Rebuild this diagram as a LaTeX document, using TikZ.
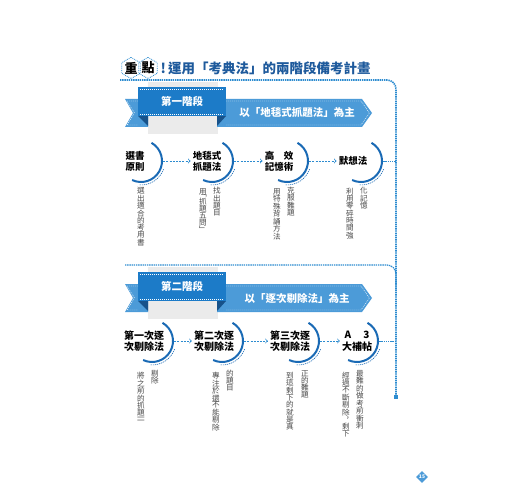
\documentclass[tikz,border=0pt]{standalone}
\usepackage{fontspec}
\setmainfont{Noto Sans CJK TC}
\usetikzlibrary{arrows,positioning,shapes.geometric}

\definecolor{titleblue}{HTML}{1E5A9C}
\definecolor{lineblue}{HTML}{2D8CD0}
\definecolor{tabblue}{HTML}{1C7BC8}
\definecolor{bandblue}{HTML}{4C9BD8}
\definecolor{folddark}{HTML}{17528A}
\definecolor{arcblue}{HTML}{1A6AB5}
\definecolor{paper}{HTML}{EBEBEB}
\definecolor{desctext}{HTML}{4A4A4A}

% one column of vertical text
\makeatletter
\newcommand\vcol[1]{\vtop{\offinterlineskip\vcol@#1\@nil}}
\def\vcol@#1{\ifx#1\@nil\else\hbox to 8pt{\hss#1\hss}\vskip0.5pt\expandafter\vcol@\fi}
\makeatother

\begin{document}
\begin{tikzpicture}[x=1pt, y=1pt,
  steptext/.style={font=\bfseries\fontsize{9.5}{11}\selectfont, align=center, inner sep=2pt},
  ring/.style={circle, minimum size=44pt, inner sep=0pt},
  ringline/.style={draw=arcblue, line width=2pt},
  ringdash/.style={draw=arcblue, line width=0.6pt, dash pattern=on 1.2pt off 0.9pt},
  flow/.style={draw=lineblue, line width=0.8pt, dash pattern=on 2pt off 1.2pt, ->, >=to},
  dotline/.style={draw=lineblue, line width=1.6pt, dash pattern=on 1.4pt off 0.8pt},
  stitch/.style={draw=white, line width=0.4pt, dash pattern=on 1pt off 1pt},
  desc/.style={font=\fontsize{7.6}{8}\selectfont, text=desctext, inner sep=0pt, anchor=north},
  hex/.style={regular polygon, regular polygon sides=6, shape border rotate=30, draw=lineblue,
    densely dotted, thick, minimum size=21pt, inner sep=0pt, font=\bfseries\fontsize{13}{14}\selectfont},
  tabtext/.style={font=\bfseries\fontsize{10.5}{12}\selectfont, text=white},
]
\fill[white] (0,0) rectangle (520,-500);
\useasboundingbox (0,0) rectangle (520,-500);

% title
\node[hex] (h1) at (131,-68) {重};
\node[hex] (h2) at (148,-68) {點};
\node[anchor=west, text=titleblue, font=\bfseries\fontsize{13.5}{15}\selectfont] (title) at (157,-68)
  {!\,運用「考典法」的兩階段備考計畫};

% dotted guide line
\coordinate (ftop) at (120,-80);
\coordinate (fend) at (396,-397);
\coordinate (fmid) at (125,-265);
\draw[dotline, rounded corners=9pt] (ftop) -| (fend);
\draw[dotline, line width=1.2pt, rounded corners=9pt] (fmid) -| (396,-290);
\fill[lineblue] (fend) +(-1.8,-1.8) rectangle +(1.8,1.8);

% the two ribbons
\foreach \yy/\tabtxt/\bandtxt [count=\k] in {0/第一階段/以「地毯式抓題法」為主, 185/第二階段/以「逐次剔除法」為主}{
  \begin{scope}[yshift=-\yy pt]
    \fill[paper] (148,-82) rectangle (218,-134);
    \fill[bandblue] (125,-99) -- (148,-99) -- (148,-127) -- (125,-127) -- (133,-113) -- cycle;
    \fill[bandblue] (217,-99) -- (362,-99) -- (372,-113) -- (362,-127) -- (217,-127) -- cycle;
    \fill[folddark] (138,-116) -- (148,-116) -- (148,-126) -- cycle;
    \fill[folddark] (217,-116) -- (226,-116) -- (217,-126) -- cycle;
    \fill[tabblue] (138,-87) rectangle (226,-116);
    \draw[stitch] (140,-89) -- (224,-89) (140,-114) -- (224,-114);
    \draw[stitch] (226,-101) -- (361,-101) -- (369.5,-113) -- (361,-125) -- (226,-125);
    \draw[stitch] (138,-101) -- (127,-101) -- (134.5,-113) -- (127,-125) -- (138,-125);
    \node[tabtext] (tab\k) at (182,-101) {\tabtxt};
    \node[tabtext] (band\k) at (297,-113) {\bandtxt};
  \end{scope}
}

% stage 1 steps
\node[steptext] (s1) at (135,-161) {選書\\原則};
\node[steptext] (s2) at (207,-161) {地毯式\\抓題法};
\node[steptext] (s3) at (279,-161) {高　效\\記憶術};
\node[steptext] (s4) at (353,-161) {默想法};
\node[ring] (c1) at (141,-161) {};
\node[ring] (c2) at (212,-161) {};
\node[ring] (c3) at (287,-161) {};
\node[ring] (c4) at (361,-161) {};

% stage 2 steps
\node[steptext, font=\bfseries\fontsize{10}{11.5}\selectfont] (s5) at (144,-341) {第一次逐\\次剔除法};
\node[steptext, font=\bfseries\fontsize{10}{11.5}\selectfont] (s6) at (214,-341) {第二次逐\\次剔除法};
\node[steptext, font=\bfseries\fontsize{10}{11.5}\selectfont] (s7) at (290,-341) {第三次逐\\次剔除法};
\node[steptext, font=\bfseries\fontsize{10}{11.5}\selectfont] (s8) at (357,-341) {A\hspace{12pt}3\\大補帖};
\node[ring] (c5) at (152,-341) {};
\node[ring] (c6) at (222,-341) {};
\node[ring] (c7) at (298,-341) {};
\node[ring] (c8) at (357,-341) {};

\foreach \c in {c1,c2,c3,c4,c5,c6,c7,c8}{
  \draw[ringline] ([shift={(60:21pt)}]\c.center) arc[start angle=60, end angle=-115, radius=21pt];
  \draw[ringdash] ([shift={(-20:24pt)}]\c.center) arc[start angle=-20, end angle=-95, radius=24pt];
}
\foreach \a/\b in {c1/s2, c2/s3, c3/s4, c5/s6, c6/s7, c7/s8}
  \draw[flow] (\a.east) -- (\b.west);
\draw[dotline, line width=0.8pt] (c4.east) -- (c4.east -| fend);
\draw[dotline, line width=0.8pt] (c8.east) -- (c8.east -| fend);

% descriptions, read column by column
\node[desc] (d1) at (141,-187) {\vcol{選出適合的考用書}};
\node[desc] (d2a) at (203,-188) {\vcol{用﹁抓題五問﹂}};
\node[desc] (d2b) at (217,-187) {\vcol{找出題目}};
\node[desc] (d3a) at (277,-188) {\vcol{用特殊背誦方法}};
\node[desc] (d3b) at (291,-187) {\vcol{克服難題}};
\node[desc] (d4a) at (350,-188) {\vcol{利用零碎時間強}};
\node[desc] (d4b) at (364,-187) {\vcol{化記憶}};
\node[desc] (d5a) at (141,-372) {\vcol{將之前的抓題一一}};
\node[desc] (d5b) at (155,-370) {\vcol{剔除}};
\node[desc] (d6a) at (216,-372) {\vcol{專注於還不能剔除}};
\node[desc] (d6b) at (230,-370) {\vcol{的題目}};
\node[desc] (d7a) at (290,-372) {\vcol{到這剩下的就是真}};
\node[desc] (d7b) at (305,-370) {\vcol{正的難題}};
\node[desc] (d8a) at (346,-372) {\vcol{經過不斷剔除︐剩下}};
\node[desc] (d8b) at (360,-370) {\vcol{最難的做考前衝刺}};

% page number
\node[diamond, fill=bandblue, minimum size=12pt, inner sep=0pt, text=white,
  font=\bfseries\fontsize{5}{5}\selectfont] (pg) at (422,-477) {15};
\end{tikzpicture}
\end{document}
